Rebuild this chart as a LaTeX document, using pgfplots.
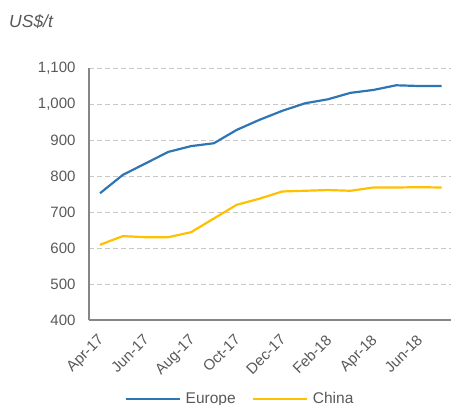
\documentclass[border=0pt]{standalone}
\usepackage{pgfplots}
\pgfplotsset{compat=1.18}
\usepackage{fontspec}
\setmainfont{Liberation Sans}
\definecolor{eublue}{HTML}{2E75B6}
\definecolor{cnyellow}{HTML}{FFC000}
\definecolor{txtgray}{HTML}{595959}
\definecolor{axgray}{HTML}{868686}
\definecolor{gridgray}{HTML}{C8C8C8}

\begin{document}
\begin{tikzpicture}
\useasboundingbox (0,0) rectangle (453bp,405bp);
\node[anchor=west, inner sep=0pt, text=txtgray, font=\fontsize{17.5bp}{20bp}\selectfont\itshape] at (9bp,383bp) {US\$/t};
\begin{axis}[
  at={(89bp,85bp)}, anchor=south west,
  scale only axis,
  width=362bp, height=252bp,
  xmin=-0.483, xmax=15.41,
  ymin=400, ymax=1100,
  ytick={400,500,...,1100},
  xtick={0,2,...,14},
  xticklabels={Apr-17,Jun-17,Aug-17,Oct-17,Dec-17,Feb-18,Apr-18,Jun-18},
  major tick length=0pt,
  axis x line*=bottom, axis y line*=left,
  axis line style={axgray, line width=1.3pt, -},
  ymajorgrids,
  grid style={gridgray, line width=0.9pt, dash pattern=on 5bp off 3bp},
  tick label style={text=txtgray, font=\fontsize{15bp}{17bp}\selectfont},
  /pgf/number format/assume math mode=true,
  /pgf/number format/1000 sep={,},
  yticklabel style={xshift=-10bp},
  xticklabel style={xshift=-3bp, yshift=-12bp, rotate=45, anchor=north east, inner sep=1pt},
  legend columns=2,
  legend style={draw=none, fill=none, at={(0.417,-0.313)}, anchor=center,
    font=\fontsize{15.5bp}{17bp}\selectfont, text=txtgray,
    /tikz/every odd column/.append style={column sep=3bp},
    /tikz/every even column/.append style={column sep=14bp}},
  legend image code/.code={\draw[#1] (0bp,0bp) -- (54bp,0bp);},
]
\addplot[eublue, line width=2.2pt] coordinates {
  (0,752) (1,803) (2,835) (3,867) (4,883) (5,891) (6,928) (7,956)
  (8,981) (9,1002) (10,1013) (11,1031) (12,1039) (13,1052) (14,1050) (15,1050)
};
\addlegendentry{Europe}
\addplot[cnyellow, line width=2.2pt] coordinates {
  (0,609) (1,633) (2,630) (3,630) (4,644) (5,682) (6,720) (7,737)
  (8,757) (9,759) (10,761) (11,759) (12,768) (13,768) (14,769) (15,768)
};
\addlegendentry{China}
\end{axis}
\end{tikzpicture}
\end{document}
